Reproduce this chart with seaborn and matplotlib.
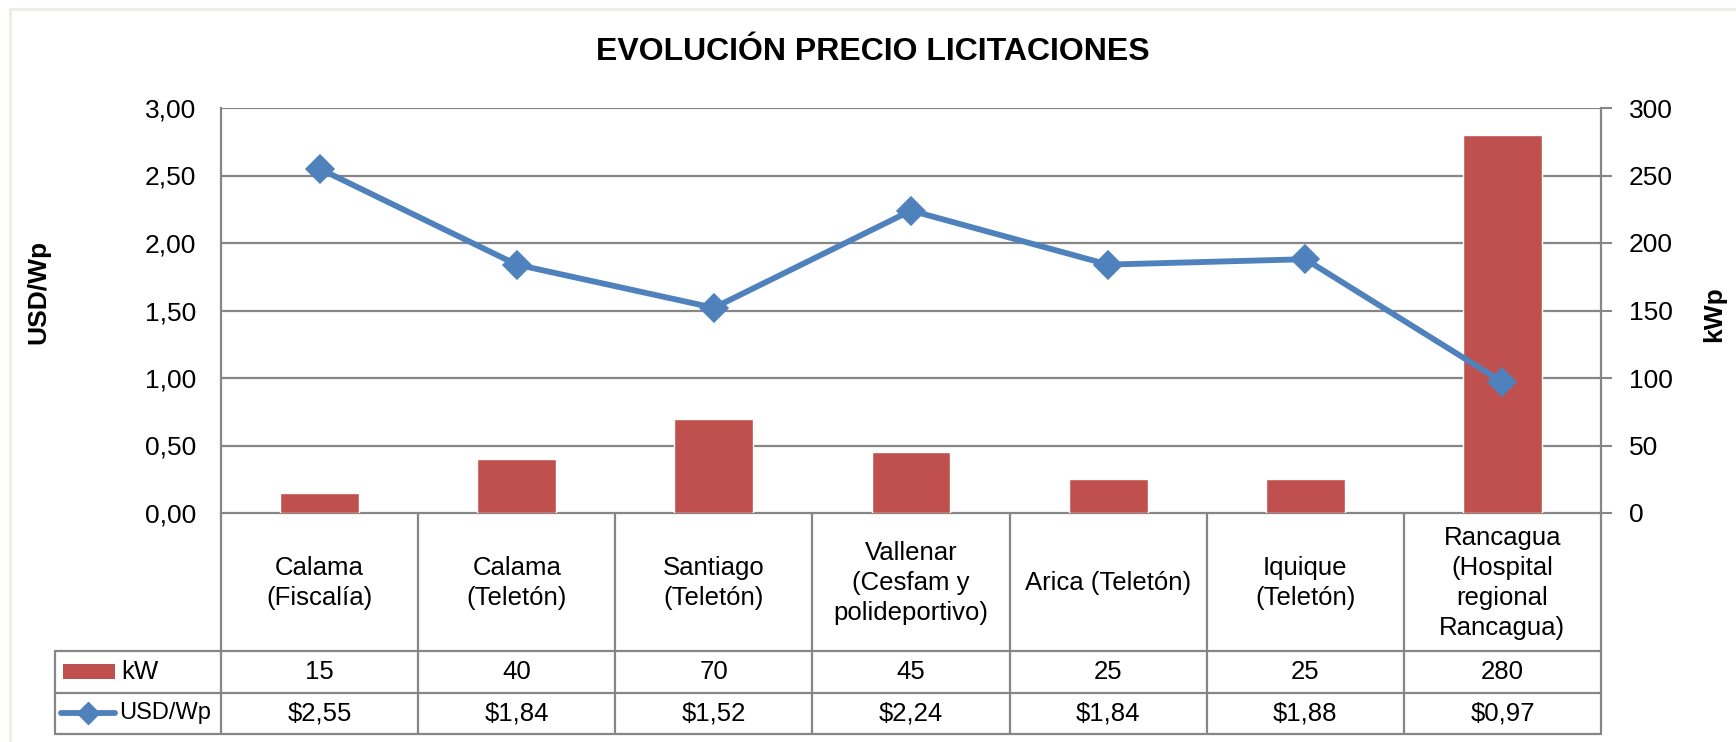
import numpy as np
import pandas as pd
import matplotlib
matplotlib.use("Agg")
import matplotlib.pyplot as plt
import seaborn as sns
from matplotlib.lines import Line2D
from matplotlib.patches import Rectangle

# ---- data ----
categories = ["Calama\n(Fiscalía)", "Calama\n(Teletón)", "Santiago\n(Teletón)",
              "Vallenar\n(Cesfam y\npolideportivo)", "Arica (Teletón)",
              "Iquique\n(Teletón)", "Rancagua\n(Hospital\nregional\nRancagua)"]
kw_values = [15, 40, 70, 45, 25, 25, 280]
usd_values = [2.55, 1.84, 1.52, 2.24, 1.84, 1.88, 0.97]
kw_labels = ["15", "40", "70", "45", "25", "25", "280"]
usd_labels = ["$2,55", "$1,84", "$1,52", "$2,24", "$1,84", "$1,88", "$0,97"]
left_ticks = [0, 0.5, 1.0, 1.5, 2.0, 2.5, 3.0]
right_ticks = [0, 50, 100, 150, 200, 250, 300]
title = "EVOLUCIÓN PRECIO LICITACIONES"
series_names = ["kW", "USD/Wp"]

sns.set_theme(style="white")
FAM = ["Liberation Sans Narrow", "Liberation Sans", "DejaVu Sans"]
plt.rcParams["font.family"] = FAM
plt.rcParams["text.color"] = "black"
plt.rcParams["ytick.labelcolor"] = "black"
plt.rcParams["axes.labelcolor"] = "black"

BAR = "#C0504D"
LINE = "#4F81BD"
GRID = "#868686"

W, H = 1736, 742
fig = plt.figure(figsize=(W / 100, H / 100), dpi=100)
fig.patch.set_facecolor("white")

# plot area in pixels
x0, x1, y0, y1 = 221, 1601, 108, 513
ax = fig.add_axes([x0 / W, 1 - y1 / H, (x1 - x0) / W, (y1 - y0) / H])
ax2 = ax.twinx()

df = pd.DataFrame({"cat": categories, "kw": kw_values, "usd": usd_values})

# bars (kWp, right scale) on the primary axes
sns.barplot(data=df, x="cat", y="kw", ax=ax, color=BAR, width=0.4,
            saturation=1, zorder=3)
ax.set_ylim(0, 300)
ax.set_xlim(-0.5, 6.5)
ax.set_yticks(right_ticks)
ax.set_yticklabels([str(t) for t in right_ticks])
ax.set_xticks([])
ax.set_xlabel("")
ax.set_ylabel("")
ax.yaxis.tick_right()
ax.tick_params(axis="y", left=False, labelleft=False, right=True, labelright=True,
               length=8, width=1.5, color=GRID, pad=12, labelsize=19,
               labelcolor="black")
for v in right_ticks[1:]:
    ax.axhline(v, color=GRID, lw=1.6, zorder=1)
for s in ax.spines.values():
    s.set_visible(False)
for k in ["left", "right", "bottom"]:
    ax.spines[k].set_visible(True)
    ax.spines[k].set_color(GRID)
    ax.spines[k].set_linewidth(1.6)

# line (USD/Wp, left scale) on the twin axes
sns.pointplot(data=df, x="cat", y="usd", ax=ax2, color=LINE, markers="D",
              linestyles="-", markersize=12, linewidth=4.2, zorder=5)
ax2.set_ylim(0, 3.0)
ax2.set_xlim(-0.5, 6.5)
ax2.set_yticks(left_ticks)
ax2.set_yticklabels([f"{t:.2f}".replace(".", ",") for t in left_ticks])
ax2.yaxis.tick_left()
ax2.tick_params(axis="y", left=True, labelleft=True, right=False, labelright=False,
                length=0, pad=18, labelsize=19, labelcolor="black")
ax2.set_xticks([])
ax2.set_xlabel("")
ax2.set_ylabel("")
for s in ax2.spines.values():
    s.set_visible(False)
ax2.patch.set_visible(False)

fig.text(38 / W, 1 - 292 / H, "USD/Wp", rotation=90, ha="center", va="center",
         fontsize=19, fontweight="bold", family=["Liberation Sans", "DejaVu Sans"])
fig.text(1714 / W, 1 - 314 / H, "kWp", rotation=90, ha="center", va="center",
         fontsize=19, fontweight="bold", family=["Liberation Sans", "DejaVu Sans"])

# title
fig.text(0.503, 1 - 52 / H, title, ha="center", va="center", fontsize=23,
         fontweight="bold")

# data table
def fy(py):
    return 1 - py / H

def fx(px):
    return px / W

col_w = (x1 - x0) / 7
row_cat_bot, row_kw_bot, row_usd_bot = 651, 693, 734
hdr_left = 55
lkw = dict(color=GRID, lw=1.6, transform=fig.transFigure)
for yy in (row_cat_bot, row_kw_bot, row_usd_bot):
    fig.add_artist(Line2D([fx(hdr_left), fx(x1)], [fy(yy)] * 2, **lkw))
for i in range(8):
    xx = x0 + i * col_w
    fig.add_artist(Line2D([fx(xx)] * 2, [fy(y1), fy(row_usd_bot)], **lkw))
fig.add_artist(Line2D([fx(hdr_left)] * 2, [fy(row_cat_bot), fy(row_usd_bot)], **lkw))

trans = ax.get_xaxis_transform()
def ay(py):
    return (y1 - py) / (y1 - y0)

for i, cat in enumerate(categories):
    ax.text(i, ay((y1 + row_cat_bot) / 2 + 1), cat, transform=trans, ha="center",
            va="center", fontsize=18.5, linespacing=1.3, clip_on=False)
    ax.text(i, ay((row_cat_bot + row_kw_bot) / 2), kw_labels[i], transform=trans,
            ha="center", va="center", fontsize=18.5, clip_on=False)
    ax.text(i, ay((row_kw_bot + row_usd_bot) / 2), usd_labels[i], transform=trans,
            ha="center", va="center", fontsize=18.5, clip_on=False)

# legend keys in table row headers
fig.add_artist(Rectangle((fx(63), fy(679)), fx(115) - fx(63), fy(664) - fy(679),
                         transform=fig.transFigure, color=BAR, lw=0))
fig.text(fx(121), fy((row_cat_bot + row_kw_bot) / 2), series_names[0],
         ha="left", va="center", fontsize=18.5)
fig.add_artist(Line2D([fx(61), fx(115)], [fy(713)] * 2, color=LINE, lw=4.2,
                      solid_capstyle="round", transform=fig.transFigure))
fig.add_artist(Line2D([fx(88)], [fy(713)], color=LINE, marker="D", markersize=11,
                      lw=0, transform=fig.transFigure))
fig.text(fx(119), fy((row_kw_bot + row_usd_bot) / 2), series_names[1],
         ha="left", va="center", fontsize=17)

# chart frame (top / left)
fig.add_artist(Line2D([fx(10), 1], [fy(9)] * 2, color="#EEECE1", lw=2,
                      transform=fig.transFigure))
fig.add_artist(Line2D([fx(10)] * 2, [fy(9), 0], color="#EEECE1", lw=2,
                      transform=fig.transFigure))

fig.savefig("out.png", dpi=100, facecolor="white")
